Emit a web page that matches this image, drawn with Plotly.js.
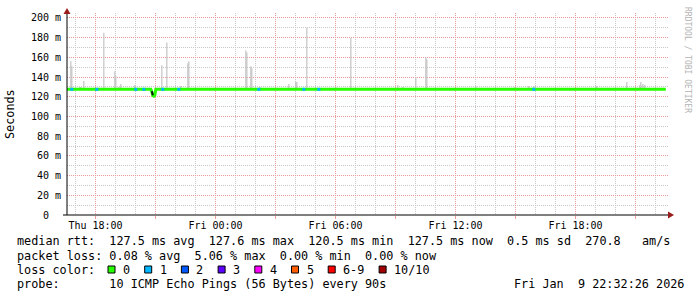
<!DOCTYPE html>
<html>
<head>
<meta charset="utf-8">
<script src="https://cdn.plot.ly/plotly-3.0.1.min.js"></script>
<style>html,body{margin:0;padding:0;background:#fff;}#chart{width:697px;height:297px;}</style>
</head>
<body>
<div id="chart"></div>
<script>
// ---------------- data ----------------
const medianTimes = ['2026-01-08 16:34','2026-01-08 18:00','2026-01-08 20:46','2026-01-08 20:49','2026-01-08 20:52','2026-01-08 20:55','2026-01-08 20:58','2026-01-08 21:01','2026-01-09 00:00','2026-01-09 06:00','2026-01-09 12:00','2026-01-09 18:00','2026-01-09 22:31'];
const medianValues = [127.5,127.5,127.5,125.0,121.0,120.5,121.5,127.5,127.5,127.6,127.5,127.5,127.5];

const darkTimes = ['2026-01-08 20:49','2026-01-08 20:52'];
const darkValues = [125.5,121.5];

const loss1Times = ['2026-01-08 16:49','2026-01-08 18:04','2026-01-08 20:01','2026-01-08 20:25','2026-01-08 21:22','2026-01-08 22:10','2026-01-09 02:10','2026-01-09 04:25','2026-01-09 05:10','2026-01-09 15:55'];

const spikeTimes = ['2026-01-08 16:46','2026-01-08 16:49','2026-01-08 17:13','2026-01-08 17:16','2026-01-08 17:25','2026-01-08 18:25','2026-01-08 18:58','2026-01-08 19:01','2026-01-08 19:10','2026-01-08 19:16','2026-01-08 19:58','2026-01-08 21:19','2026-01-08 21:34','2026-01-08 22:16','2026-01-08 22:37','2026-01-08 22:40','2026-01-09 01:31','2026-01-09 01:34','2026-01-09 01:46','2026-01-09 01:49','2026-01-09 02:13','2026-01-09 03:40','2026-01-09 04:01','2026-01-09 04:04','2026-01-09 04:34','2026-01-09 06:01','2026-01-09 06:25','2026-01-09 06:46','2026-01-09 09:07','2026-01-09 09:22','2026-01-09 10:01','2026-01-09 10:31','2026-01-09 10:34','2026-01-09 11:40','2026-01-09 12:19','2026-01-09 13:01','2026-01-09 14:58','2026-01-09 15:40','2026-01-09 15:55','2026-01-09 19:04','2026-01-09 19:49','2026-01-09 20:34','2026-01-09 21:13','2026-01-09 21:16','2026-01-09 21:22','2026-01-09 21:28'];
const spikeTops = [156,151,130,130,136,185,146,141,130,133,132,152,175,131,154,156,167,165,151,149,130,133,135,135,190,130,129,180,132,130,140,160,158,129,129,131,130,131,131,131,129,135,132,135,133,132];
const smokeBase = 127.5;

const xTickVals = ['2026-01-08 18:00','2026-01-08 21:00','2026-01-09 00:00','2026-01-09 03:00','2026-01-09 06:00','2026-01-09 09:00','2026-01-09 12:00','2026-01-09 15:00','2026-01-09 18:00','2026-01-09 21:00'];
const xTickText = ['Thu 18:00','','Fri 00:00','','Fri 06:00','','Fri 12:00','','Fri 18:00',''];
const yTickVals = [0,20,40,60,80,100,120,140,160,180,200];
const yTickText = ['0\u00a0\u00a0','20 m','40 m','60 m','80 m','100 m','120 m','140 m','160 m','180 m','200 m'];

const rttStats = [127.5,127.6,120.5,127.5,0.5];
const amps = 270.8;
const lossStats = [0.08,5.06,0.00,0.00];
const lossLabels = ['0','1','2','3','4','5','6-9','10/10'];
const lossColors = ['#26ff00','#00b8ff','#0059ff','#5e00ff','#ff00ff','#ff5e00','#ff0000','#a10000'];
const probeText = '10 ICMP Echo Pings (56 Bytes) every 90s';
const stampText = 'Fri Jan  9 22:32:26 2026';

// ---------------- layout helpers ----------------
const W = 697, H = 297;
const L = 67, R = 668, T = 13, B = 215;
const px = x => (x - L) / (R - L);
const py = y => (B - y) / (B - T);
const MONO = 'DejaVu Sans Mono';
const nb = s => s.replace(/ /g, '\u00a0');

// smoke spikes
const sx = [], sy = [];
spikeTimes.forEach((t, i) => { sx.push(t, t, null); sy.push(smokeBase, spikeTops[i], null); });

const traces = [
  {x: sx, y: sy, mode: 'lines', line: {color: '#c4c4c4', width: 1.2}, hoverinfo: 'skip', type: 'scatter'},
  {x: medianTimes, y: medianValues, mode: 'lines', line: {color: lossColors[0], width: 3}, type: 'scatter'},
  {x: darkTimes, y: darkValues, mode: 'lines', line: {color: '#111', width: 2}, type: 'scatter'},
  {x: loss1Times, y: loss1Times.map(() => 127.5), mode: 'markers', marker: {symbol: 'square', size: 3, color: lossColors[1], line: {width: 0}}, type: 'scatter'}
];

const f1 = v => v.toFixed(1), f2 = v => v.toFixed(2);
const line1 = `median rtt:  ${f1(rttStats[0])} ms avg  ${f1(rttStats[1])} ms max  ${f1(rttStats[2])} ms min  ${f1(rttStats[3])} ms now  ${f1(rttStats[4])} ms sd  ${f1(amps)}   am/s`;
const line2 = `packet loss: ${f2(lossStats[0])} % avg  ${f2(lossStats[1])} % max  ${f2(lossStats[2])} % min  ${f2(lossStats[3])} % now`;
const line4 = `probe:       ${probeText}`;

const textFont = {family: MONO, size: 11.8, color: '#000'};
const ann = (text, x, y, extra) => Object.assign({text: nb(text), xref: 'paper', yref: 'paper', x: px(x), y: py(y), xanchor: 'left', yanchor: 'middle', showarrow: false, font: textFont}, extra || {});

const annotations = [
  ann(line1, 15, 241),
  ann(line2, 15, 255.5),
  ann('loss color:', 15, 269.5),
  ann(line4, 15, 284),
  ann(stampText, 512, 284),
  {text: 'Seconds', xref: 'paper', yref: 'paper', x: px(10), y: py(114), xanchor: 'center', yanchor: 'middle', textangle: -90, showarrow: false, font: {family: MONO, size: 11.8, color: '#000'}},
  {text: nb('RRDTOOL / TOBI OETIKER'), xref: 'paper', yref: 'paper', x: px(688), y: py(60), xanchor: 'center', yanchor: 'middle', textangle: 90, showarrow: false, font: {family: MONO, size: 8, color: '#b4b4b4'}}
];

const shapes = [];
let sqx = 108;
lossLabels.forEach((lab, i) => {
  shapes.push({type: 'rect', xref: 'paper', yref: 'paper', x0: px(sqx), x1: px(sqx + 7), y0: py(273), y1: py(266), fillcolor: lossColors[i], line: {color: '#000', width: 1}});
  annotations.push(ann(lab, sqx + 13, 269.5));
  sqx = sqx + 14 + lab.length * 7.1 + 15.6;
});
// axes lines and arrows
shapes.push({type: 'line', xref: 'paper', yref: 'paper', x0: px(63), x1: px(670), y0: py(215), y1: py(215), line: {color: '#000', width: 1}});
shapes.push({type: 'line', xref: 'paper', yref: 'paper', x0: px(67), x1: px(67), y0: py(215), y1: py(12), line: {color: '#000', width: 1}});
shapes.push({type: 'path', xref: 'paper', yref: 'paper', path: `M ${px(63.5)} ${py(14)} L ${px(70.5)} ${py(14)} L ${px(67)} ${py(8)} Z`, fillcolor: '#9b1c1c', line: {width: 0}});
shapes.push({type: 'path', xref: 'paper', yref: 'paper', path: `M ${px(668)} ${py(211.5)} L ${px(668)} ${py(218.5)} L ${px(674)} ${py(215)} Z`, fillcolor: '#9b1c1c', line: {width: 0}});

const pink = '#ec9a9a', gray = '#c8c8c8';
const layout = {
  width: W, height: H,
  margin: {l: L, r: W - R, t: T, b: H - B, pad: 0},
  paper_bgcolor: '#fff', plot_bgcolor: '#fff',
  showlegend: false,
  xaxis: {
    type: 'date', range: ['2026-01-08 16:34:30', '2026-01-09 22:37:30'],
    tickmode: 'array', tickvals: xTickVals, ticktext: xTickText,
    tickfont: {family: MONO, size: 10, color: '#000'},
    showgrid: true, gridcolor: pink, griddash: '1px,1px', gridwidth: 1,
    ticks: 'outside', ticklen: 3, tickcolor: pink, tickwidth: 1, ticklabelstandoff: -2,
    minor: {tickmode: 'linear', tick0: '2026-01-08 00:00', dtick: 3600000, showgrid: true, gridcolor: gray, griddash: '1px,1px', gridwidth: 1, ticks: ''},
    showline: false, zeroline: false, fixedrange: true
  },
  yaxis: {
    range: [0, 205],
    tickmode: 'array', tickvals: yTickVals, ticktext: yTickText,
    tickfont: {family: MONO, size: 10, color: '#000'},
    showgrid: true, gridcolor: pink, griddash: '1px,1px', gridwidth: 1,
    ticks: '', ticklabelstandoff: 5,
    minor: {tickmode: 'linear', tick0: 0, dtick: 10, showgrid: true, gridcolor: gray, griddash: '1px,1px', gridwidth: 1, ticks: ''},
    showline: false, zeroline: false, fixedrange: true
  },
  annotations: annotations,
  shapes: shapes
};

Plotly.newPlot('chart', traces, layout, {staticPlot: true, displayModeBar: false});
</script>
</body>
</html>
